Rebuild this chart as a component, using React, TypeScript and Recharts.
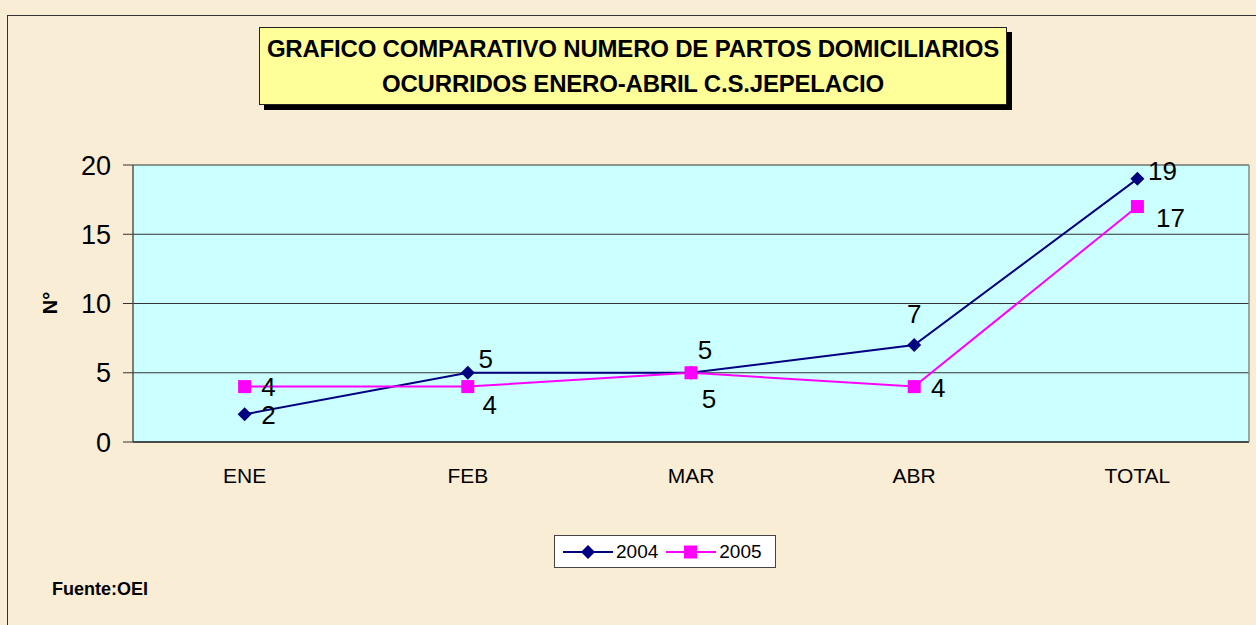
import { CartesianGrid, Line, LineChart, XAxis, YAxis } from "recharts";

const months = ["ENE", "FEB", "MAR", "ABR", "TOTAL"];
const partos2004 = [2, 5, 5, 7, 19];
const partos2005 = [4, 4, 5, 4, 17];
const yTicks = [0, 5, 10, 15, 20];
const bandTicks = [0, 1, 2, 3, 4, 5];

const data = months.map((mes, i) => ({
  mes,
  a2004: partos2004[i],
  a2005: partos2005[i],
}));

// label nudges (dx, dy) per point, Excel-style manual placement
const nudge2004 = [[24, 1], [18, -14], [14, -23], [0, -31], [25, -8]];
const nudge2005 = [[24, 0], [22, 18], [18, 26], [24, 1], [33, 11]];

const FONT = "'Liberation Sans', Arial, sans-serif";
const NAVY = "#000080";
const MAGENTA = "#FF00FF";

function Diamond({ cx, cy }: { cx?: number; cy?: number }) {
  if (cx == null || cy == null) return null;
  return (
    <path
      d={`M${cx},${cy - 7}L${cx + 7},${cy}L${cx},${cy + 7}L${cx - 7},${cy}Z`}
      fill={NAVY}
    />
  );
}

function Square({ cx, cy }: { cx?: number; cy?: number }) {
  if (cx == null || cy == null) return null;
  return <rect x={cx - 6.5} y={cy - 6.5} width={13} height={13} fill={MAGENTA} />;
}

function makeLabel(nudges: number[][]) {
  return (props: any) => {
    const { x, y, value, index } = props;
    const [dx, dy] = nudges[index] ?? [0, 0];
    return (
      <text
        x={x + dx}
        y={y + dy}
        textAnchor="middle"
        dominantBaseline="central"
        fontSize={26}
        fontFamily={FONT}
        fill="#000"
      >
        {value}
      </text>
    );
  };
}

function LegendItem({ color, label, square }: { color: string; label: string; square?: boolean }) {
  return (
    <div style={{ display: "flex", alignItems: "center", marginRight: 8 }}>
      <svg width={50} height={16}>
        <line x1={0} y1={8} x2={50} y2={8} stroke={color} strokeWidth={2} />
        {square ? (
          <rect x={18} y={1.5} width={13} height={13} fill={color} />
        ) : (
          <path d="M25,1L32,8L25,15L18,8Z" fill={color} />
        )}
      </svg>
      <span style={{ fontSize: 19, marginLeft: 3 }}>{label}</span>
    </div>
  );
}

export default function App() {
  return (
    <div
      style={{
        position: "absolute",
        left: 0,
        top: 0,
        width: 1256,
        height: 625,
        overflow: "hidden",
        background: "#F9EDD6",
        fontFamily: FONT,
      }}
    >
      <div
        style={{
          position: "absolute",
          left: 7,
          top: 15,
          width: 1300,
          height: 700,
          border: "1px solid #333",
        }}
      />
      <LineChart
        width={1256}
        height={625}
        data={data}
        margin={{ top: 165, right: 6, left: 73, bottom: 138 }}
        style={{ position: "absolute", left: 0, top: 0 }}
      >
        <CartesianGrid vertical={false} fill="#CCFFFF" stroke="#333" strokeOpacity={1} />
        <XAxis
          xAxisId="band"
          type="number"
          domain={[0, 5]}
          ticks={bandTicks}
          tick={false}
          tickSize={7}
          axisLine={false}
          tickLine={{ stroke: "#333" }}
          height={1}
        />
        <XAxis
          dataKey="mes"
          padding={{ left: 111.6, right: 111.6 }}
          tickLine={false}
          axisLine={{ stroke: "#333", strokeWidth: 1.5 }}
          tick={{ fontSize: 21, fill: "#000", fontFamily: FONT }}
          tickMargin={20}
          height={44}
        />
        <YAxis
          domain={[0, 20]}
          ticks={yTicks}
          width={60}
          tickSize={10}
          tickMargin={12}
          axisLine={{ stroke: "#555", strokeWidth: 1.5 }}
          tickLine={{ stroke: "#333" }}
          tick={{ fontSize: 27, fill: "#000", fontFamily: FONT }}
          interval={0}
        />
        <YAxis
          yAxisId="right"
          orientation="right"
          domain={[0, 20]}
          width={1}
          tick={false}
          tickLine={false}
          axisLine={{ stroke: "#888", strokeWidth: 1.5 }}
        />
        <Line
          dataKey="a2004"
          stroke={NAVY}
          strokeWidth={2}
          dot={<Diamond />}
          activeDot={false}
          label={makeLabel(nudge2004)}
          isAnimationActive={false}
        />
        <Line
          dataKey="a2005"
          stroke={MAGENTA}
          strokeWidth={2}
          dot={<Square />}
          activeDot={false}
          label={makeLabel(nudge2005)}
          isAnimationActive={false}
        />
      </LineChart>

      <div
        style={{
          position: "absolute",
          left: 50,
          top: 303,
          transform: "translate(-50%, -50%) rotate(-90deg)",
          fontSize: 20,
          fontWeight: "bold",
          whiteSpace: "nowrap",
        }}
      >
        N°
      </div>

      <div
        style={{
          position: "absolute",
          left: 264,
          top: 32,
          width: 748,
          height: 78,
          background: "#000",
        }}
      />
      <div
        style={{
          position: "absolute",
          left: 259,
          top: 27,
          width: 746,
          height: 76,
          background: "#FFFF99",
          border: "1px solid #222",
          display: "flex",
          flexDirection: "column",
          justifyContent: "center",
          alignItems: "center",
          fontWeight: "bold",
          fontSize: 24,
          lineHeight: "35px",
          textAlign: "center",
          whiteSpace: "nowrap",
          letterSpacing: -0.2,
        }}
      >
        <div>GRAFICO COMPARATIVO NUMERO DE PARTOS DOMICILIARIOS</div>
        <div>OCURRIDOS ENERO-ABRIL C.S.JEPELACIO</div>
      </div>

      <div
        style={{
          position: "absolute",
          left: 554,
          top: 535,
          width: 222,
          height: 33,
          background: "#fff",
          border: "1px solid #444",
          display: "flex",
          alignItems: "center",
          paddingLeft: 8,
          boxSizing: "border-box",
        }}
      >
        <LegendItem color={NAVY} label="2004" />
        <LegendItem color={MAGENTA} label="2005" square />
      </div>

      <div
        style={{
          position: "absolute",
          left: 52,
          top: 579,
          fontSize: 18,
          fontWeight: "bold",
        }}
      >
        Fuente:OEI
      </div>
    </div>
  );
}
